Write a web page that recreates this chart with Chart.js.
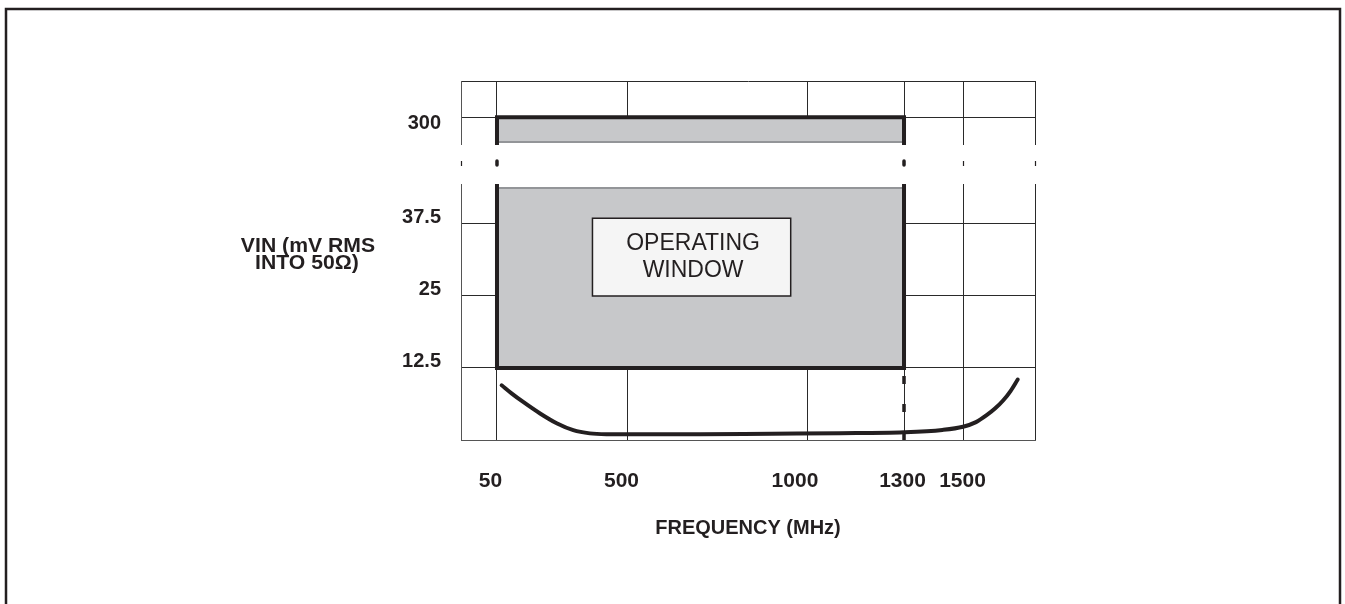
<!DOCTYPE html>
<html>
<head>
<meta charset="utf-8">
<script src="https://cdn.jsdelivr.net/npm/chart.js@4.4.0/dist/chart.umd.min.js"></script>
<style>
  html, body { margin: 0; padding: 0; background: #ffffff; }
  #wrap { position: relative; width: 1345px; height: 604px; }
</style>
</head>
<body>
<div id="wrap"><canvas id="c"></canvas></div>
<script>
// ---------------- DATA ----------------
const freqTicks      = [0, 50, 500, 1000, 1300, 1500, 1750];
const freqTickLabels = ['', '50', '500', '1000', '1300', '1500', ''];
const vinTicks       = [0, 12.5, 25, 37.5, 300, 306.25];
const vinTickLabels  = ['', '12.5', '25', '37.5', '300', ''];

const windowFreq = [50, 1300];      // operating window frequency limits (MHz)
const windowVin  = [12.5, 300];     // operating window amplitude limits (mV RMS)
const breakVin   = [43.75, 295.7];  // broken y-axis: values hidden by the break

const curveFreq = [66, 100, 140, 198, 255, 312, 369, 430, 500, 700, 900, 1100, 1300, 1430, 1500, 1545, 1582, 1612, 1640, 1665, 1690];
const curveVin  = [9.5, 8.1, 6.6, 4.6, 2.9, 1.7, 1.15, 1.0, 0.98, 1.0, 1.1, 1.18, 1.35, 1.75, 2.3, 3.1, 4.3, 5.5, 6.9, 8.5, 10.5];

const boxFreq = [378, 952];
const boxVin  = [25, 38.5];
const boxText = ['OPERATING', 'WINDOW'];
const yTitle  = ['VIN (mV RMS', 'INTO 50\u03A9)'];
const xTitle  = 'FREQUENCY (MHz)';

// ---------------- SCALE LAYOUT (piecewise axes) ----------------
const scaleAnchors = {
  x: [[0, 0], [50, 0.0627], [500, 0.2909], [1000, 0.6045], [1300, 0.7718], [1500, 0.8746], [1750, 1]],
  y: [[0, 0], [43.75, 0.70195], [295.7, 0.83008], [306.25, 1]]
};
const scaleTicks = { x: freqTicks, y: vinTicks };

function pieceFrac(a, v) {
  if (v <= a[0][0]) return a[0][1] + (v - a[0][0]) * (a[1][1] - a[0][1]) / (a[1][0] - a[0][0]);
  for (let i = 1; i < a.length; i++) {
    if (v <= a[i][0]) {
      return a[i-1][1] + (v - a[i-1][0]) * (a[i][1] - a[i-1][1]) / (a[i][0] - a[i-1][0]);
    }
  }
  const n = a.length - 1;
  return a[n][1] + (v - a[n][0]) * (a[n][1] - a[n-1][1]) / (a[n][0] - a[n-1][0]);
}
function pieceValue(a, f) {
  for (let i = 1; i < a.length; i++) {
    if (f <= a[i][1] || i === a.length - 1) {
      return a[i-1][0] + (f - a[i-1][1]) * (a[i][0] - a[i-1][0]) / (a[i][1] - a[i-1][1]);
    }
  }
}

class PiecewiseScale extends Chart.LinearScale {
  buildTicks() { return scaleTicks[this.id].map(v => ({ value: v })); }
  getPixelForValue(value) { return this.getPixelForDecimal(pieceFrac(scaleAnchors[this.id], value)); }
  getValueForPixel(pixel) { return pieceValue(scaleAnchors[this.id], this.getDecimalForPixel(pixel)); }
}
PiecewiseScale.id = 'piecewise';
PiecewiseScale.defaults = Chart.LinearScale.defaults;
Chart.register(PiecewiseScale);

// ---------------- STYLE ----------------
const INK = '#231f20';
const GRAY = '#c7c8ca';
const FONT = '"Liberation Sans", Arial, Helvetica, sans-serif';
Chart.defaults.color = INK;
Chart.defaults.font.family = FONT;

const xLabelShift = [0, -6.5, -6.5, -13, -1.5, -0.5, 0];

function wideText(ctx, text, x, y, sx) {
  ctx.save();
  ctx.translate(x, y);
  ctx.scale(sx, 1);
  ctx.fillText(text, 0, 0);
  ctx.restore();
}

// ---------------- PLUGINS ----------------
const framePlugin = {
  id: 'frame',
  beforeDraw(chart) {
    const ctx = chart.ctx;
    ctx.save();
    ctx.fillStyle = '#ffffff';
    ctx.fillRect(0, 0, chart.width, chart.height);
    ctx.strokeStyle = INK;
    ctx.lineWidth = 2.5;
    ctx.beginPath();
    ctx.moveTo(6, chart.height + 5);
    ctx.lineTo(6, 9);
    ctx.lineTo(1340, 9);
    ctx.lineTo(1340, chart.height + 5);
    ctx.stroke();
    ctx.restore();
  }
};

const breakPlugin = {
  id: 'axisBreak',
  afterDatasetsDraw(chart) {
    const ctx = chart.ctx;
    const xs = chart.scales.x, ys = chart.scales.y;
    const area = chart.chartArea;
    const yLo = ys.getPixelForValue(breakVin[0]);
    const yHi = ys.getPixelForValue(breakVin[1]);
    const wx0 = xs.getPixelForValue(windowFreq[0]);
    const wx1 = xs.getPixelForValue(windowFreq[1]);
    ctx.save();
    ctx.fillStyle = '#ffffff';
    ctx.fillRect(wx0 + 2, yHi, wx1 - wx0 - 4, yLo - yHi);
    ctx.fillRect(area.left - 2, yHi + 3, area.right - area.left + 4, (yLo - 4) - (yHi + 3));
    ctx.strokeStyle = '#939598';
    ctx.lineWidth = 2;
    ctx.beginPath();
    ctx.moveTo(wx0 + 2, yHi); ctx.lineTo(wx1 - 2, yHi);
    ctx.moveTo(wx0 + 2, yLo); ctx.lineTo(wx1 - 2, yLo);
    ctx.stroke();
    const yMid = (yHi + yLo) / 2 - 2;
    ctx.strokeStyle = INK;
    ctx.lineCap = 'round';
    ctx.lineWidth = 3.5;
    ctx.beginPath();
    [wx0, wx1].forEach(x => { ctx.moveTo(x, yMid - 2); ctx.lineTo(x, yMid + 2); });
    ctx.stroke();
    ctx.lineWidth = 1.2;
    ctx.lineCap = 'butt';
    ctx.beginPath();
    [freqTicks[0], freqTicks[5], freqTicks[6]].forEach(v => {
      const x = Math.round(xs.getPixelForValue(v)) + 0.5;
      ctx.moveTo(x, yMid - 2); ctx.lineTo(x, yMid + 3);
    });
    ctx.stroke();
    ctx.restore();
  }
};

const annotatePlugin = {
  id: 'annotate',
  afterDatasetsDraw(chart) {
    const ctx = chart.ctx;
    const xs = chart.scales.x, ys = chart.scales.y;
    const area = chart.chartArea;
    ctx.save();
    const bx0 = xs.getPixelForValue(boxFreq[0]), bx1 = xs.getPixelForValue(boxFreq[1]);
    const by0 = ys.getPixelForValue(boxVin[1]), by1 = ys.getPixelForValue(boxVin[0]);
    ctx.fillStyle = '#f5f5f5';
    ctx.fillRect(bx0, by0, bx1 - bx0, by1 - by0);
    ctx.strokeStyle = INK;
    ctx.lineWidth = 1.5;
    ctx.strokeRect(bx0, by0, bx1 - bx0, by1 - by0);
    ctx.fillStyle = INK;
    ctx.font = '23px ' + FONT;
    ctx.textAlign = 'center';
    ctx.textBaseline = 'middle';
    const bcx = (bx0 + bx1) / 2 + 1.5, bcy = (by0 + by1) / 2;
    ctx.fillText(boxText[0], bcx, bcy - 13.5);
    ctx.fillText(boxText[1], bcx, bcy + 14);
    // x tick labels
    ctx.font = 'bold 20px ' + FONT;
    freqTicks.forEach((v, i) => {
      if (!freqTickLabels[i]) return;
      wideText(ctx, freqTickLabels[i], xs.getPixelForValue(v) + xLabelShift[i], area.bottom + 41, 1.05);
    });
    // y axis title (horizontal, two lines)
    wideText(ctx, yTitle[0], area.left - 153, 246.5, 1.06);
    wideText(ctx, yTitle[1], area.left - 154, 263.5, 1.06);
    ctx.restore();
  }
};

// ---------------- CHART ----------------
const pts = (xs, ys) => xs.map((x, i) => ({ x: x, y: ys[i] }));

new Chart(document.getElementById('c'), {
  type: 'line',
  data: {
    datasets: [
      {
        data: pts(windowFreq, [windowVin[1], windowVin[1]]),
        fill: { value: windowVin[0] },
        backgroundColor: GRAY,
        borderWidth: 0,
        pointRadius: 0,
        order: 3
      },
      {
        data: pts([windowFreq[0], windowFreq[0], windowFreq[1], windowFreq[1], windowFreq[0]],
                  [windowVin[0], windowVin[1], windowVin[1], windowVin[0], windowVin[0]]),
        borderColor: INK,
        borderWidth: 4,
        borderCapStyle: 'square',
        borderJoinStyle: 'miter',
        pointRadius: 0,
        fill: false,
        order: 2
      },
      {
        data: pts([windowFreq[1], windowFreq[1]], [0, windowVin[0]]),
        borderColor: INK,
        borderWidth: 3.5,
        borderDash: [8, 20],
        pointRadius: 0,
        fill: false,
        order: 1
      },
      {
        data: pts(curveFreq, curveVin),
        borderColor: INK,
        borderWidth: 4,
        borderCapStyle: 'round',
        cubicInterpolationMode: 'monotone',
        pointRadius: 0,
        fill: false,
        order: 0
      }
    ]
  },
  options: {
    responsive: true,
    maintainAspectRatio: false,
    animation: false,
    events: [],
    layout: { padding: { left: 261, right: 310, top: 81, bottom: 54 } },
    plugins: { legend: { display: false }, tooltip: { enabled: false }, title: { display: false } },
    scales: {
      x: {
        type: 'piecewise',
        min: freqTicks[0],
        max: freqTicks[freqTicks.length - 1],
        grid: { color: '#2a2a2a', lineWidth: 1, drawTicks: false },
        border: { display: true, color: '#555555', width: 1 },
        ticks: { display: false, autoSkip: false },
        title: {
          display: true,
          text: xTitle,
          font: { size: 20, weight: 'bold', family: FONT },
          color: INK,
          padding: { top: 0, bottom: 9.5 }
        },
        afterFit: (s) => { s.height = 110; }
      },
      y: {
        type: 'piecewise',
        min: vinTicks[0],
        max: vinTicks[vinTicks.length - 1],
        grid: { color: '#2a2a2a', lineWidth: 1, drawTicks: false },
        border: { display: true, color: '#555555', width: 1 },
        ticks: {
          autoSkip: false,
          padding: 20,
          color: INK,
          font: (ctx) => ({
            size: 20, weight: 'bold', family: FONT,
            lineHeight: (ctx.tick && ctx.tick.value === 300) ? '12px' : '13.5px'
          }),
          callback: (v, i) => {
            const s = vinTickLabels[i];
            if (!s) return '';
            return vinTicks[i] === 300 ? ['', s] : [s, ''];
          }
        },
        afterFit: (s) => { s.width = 200; }
      }
    }
  },
  plugins: [framePlugin, breakPlugin, annotatePlugin]
});
</script>
</body>
</html>
